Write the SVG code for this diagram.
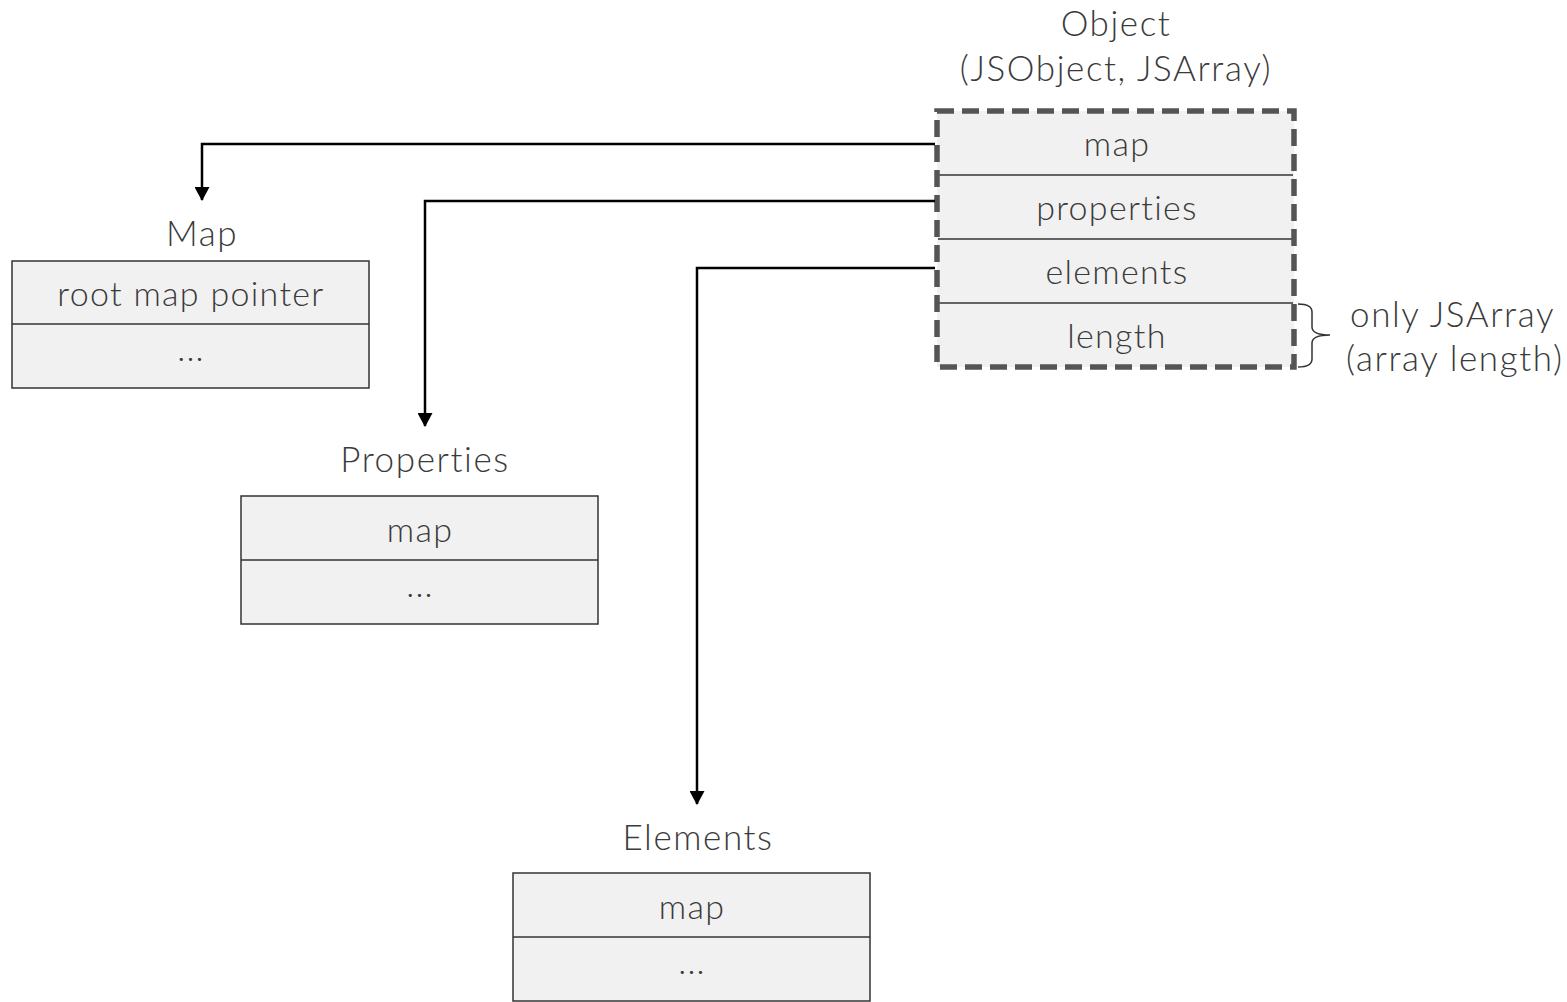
<svg xmlns="http://www.w3.org/2000/svg" width="1567" height="1002" viewBox="0 0 1567 1002">
  <style>
    text { font-family: "Lato", "Open Sans", "Liberation Sans", sans-serif; font-weight: 300; fill: #3a3a3a; }
    .cell { fill: #f1f1f1; stroke: #333; stroke-width: 1.5; }
    .div { stroke: #333; stroke-width: 1.5; }
    .lbl { font-size: 34px; letter-spacing: 1.3px; text-anchor: middle; }
    .ttl { font-size: 35px; letter-spacing: 1.6px; text-anchor: middle; }
    .note { font-size: 35px; letter-spacing: 1.6px; }
    .conn { fill: none; stroke: #000; stroke-width: 2.5; }
  </style>
  <defs>
    <marker id="arrow" viewBox="0 0 14 15" refX="13" refY="7.5" markerWidth="14" markerHeight="15" markerUnits="userSpaceOnUse" orient="auto">
      <path d="M0,0 L14,7.5 L0,15 Z" fill="#000"/>
    </marker>
  </defs>

  <!-- Object (JSObject, JSArray) -->
  <g id="object">
    <text class="ttl" x="1116" y="36">Object</text>
    <text class="ttl" x="1116" y="81">(JSObject, JSArray)</text>
    <rect x="937" y="111" width="357" height="256" fill="#f1f1f1"/>
    <line class="div" x1="938" y1="175" x2="1293" y2="175"/>
    <line class="div" x1="938" y1="239" x2="1293" y2="239"/>
    <line class="div" x1="938" y1="303" x2="1293" y2="303"/>
    <rect x="937" y="111" width="357" height="256" fill="none" stroke="#555" stroke-width="5.5" stroke-dasharray="17 8"/>
    <text class="lbl" x="1117" y="156">map</text>
    <text class="lbl" x="1117" y="220">properties</text>
    <text class="lbl" x="1117" y="284">elements</text>
    <text class="lbl" x="1117" y="348">length</text>
  </g>

  <!-- note on the length field -->
  <g id="length-note">
    <path d="M1298,304 Q1312,304 1312,312 L1312,327 Q1312,335 1330,335 Q1312,335 1312,343 L1312,359 Q1312,367 1298,367" fill="none" stroke="#333" stroke-width="1.5"/>
    <text class="note" x="1350" y="327">only JSArray</text>
    <text class="note" x="1346" y="371">(array length)</text>
  </g>

  <!-- Map -->
  <g id="map">
    <text class="ttl" x="202" y="246">Map</text>
    <rect class="cell" x="12" y="261" width="357" height="127"/>
    <line class="div" x1="12" y1="324" x2="369" y2="324"/>
    <text class="lbl" x="191" y="306">root map pointer</text>
    <text class="lbl" x="191" y="361">...</text>
  </g>

  <!-- Properties -->
  <g id="properties">
    <text class="ttl" x="425" y="472">Properties</text>
    <rect class="cell" x="241" y="496" width="357" height="128"/>
    <line class="div" x1="241" y1="560" x2="598" y2="560"/>
    <text class="lbl" x="420" y="542">map</text>
    <text class="lbl" x="420" y="597">...</text>
  </g>

  <!-- Elements -->
  <g id="elements">
    <text class="ttl" x="698" y="850">Elements</text>
    <rect class="cell" x="513" y="873" width="357" height="128"/>
    <line class="div" x1="513" y1="937" x2="870" y2="937"/>
    <text class="lbl" x="692" y="919">map</text>
    <text class="lbl" x="692" y="974">...</text>
  </g>

  <!-- pointers from the object fields -->
  <g id="connectors">
    <path class="conn" d="M935,144 H202 V200" marker-end="url(#arrow)"/>
    <path class="conn" d="M935,201 H425 V426" marker-end="url(#arrow)"/>
    <path class="conn" d="M935,268 H697 V804" marker-end="url(#arrow)"/>
  </g>
</svg>
